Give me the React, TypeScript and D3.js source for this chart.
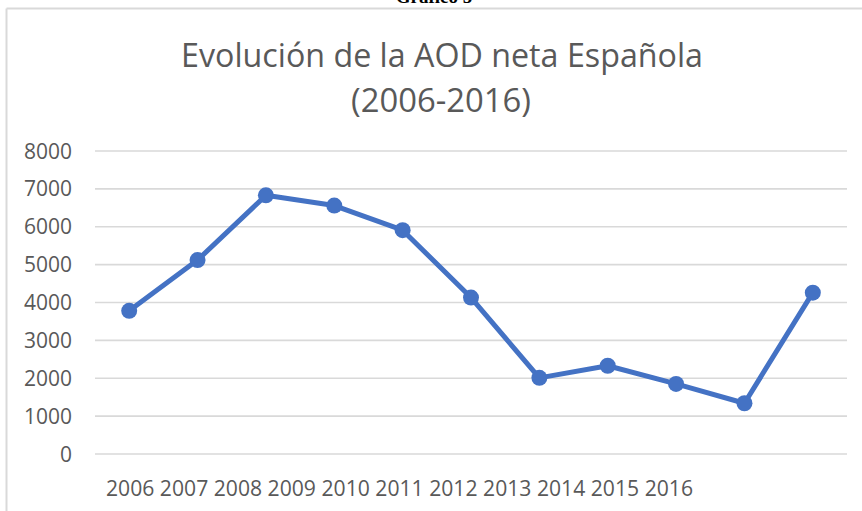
import React from "react";
import * as d3 from "d3";

const categories = ["2006", "2007", "2008", "2009", "2010", "2011", "2012", "2013", "2014", "2015", "2016"];
const values = [3780, 5120, 6830, 6560, 5910, 4130, 2010, 2330, 1850, 1340, 4260];
const yTicks = [0, 1000, 2000, 3000, 4000, 5000, 6000, 7000, 8000];
const axisLabels = ["2006", "2007", "2008", "2009", "2010", "2011", "2012", "2013", "2014", "2015", "2016"];
const titleLines = ["Evolución de la AOD neta Española", "(2006-2016)"];
const caption = "Gráfico 5";

const W = 862;
const H = 511;
const plot = { left: 95, right: 847, top: 151, bottom: 454 };
const FONT = "'Open Sans', 'Noto Sans', sans-serif";
const GREY = "#595959";
const BLUE = "#4472C4";

export default function App() {
  const x = d3.scaleBand<string>().domain(categories).range([plot.left, plot.right]);
  const y = d3.scaleLinear().domain([0, 8000]).range([plot.bottom, plot.top]);
  const line = d3
    .line<number>()
    .x((_, i) => (x(categories[i]) as number) + x.bandwidth() / 2)
    .y((d) => y(d));

  return (
    <svg width={W} height={H} style={{ position: "absolute", left: 0, top: 0, background: "#fff" }}>
      <rect x={0} y={0} width={W} height={H} fill="#fff" />
      <text x={434} y={3} textAnchor="middle" fontFamily="'Liberation Serif', serif" fontWeight="bold" fontSize={19} fill="#000">
        {caption}
      </text>
      <line x1={6.5} x2={W} y1={8.5} y2={8.5} stroke="#d9d9d9" strokeWidth={2} />
      <line x1={6.5} x2={6.5} y1={8.5} y2={H} stroke="#d9d9d9" strokeWidth={2} />
      <text x={442} y={67} textAnchor="middle" fontFamily={FONT} fontWeight={400} fontSize={33} fill={GREY} textLength={522} lengthAdjust="spacingAndGlyphs">
        {titleLines[0]}
      </text>
      <text x={441} y={112} textAnchor="middle" fontFamily={FONT} fontWeight={400} fontSize={33} fill={GREY} textLength={180} lengthAdjust="spacingAndGlyphs">
        {titleLines[1]}
      </text>
      {yTicks.map((t) => (
        <g key={t}>
          <line x1={plot.left} x2={plot.right} y1={y(t)} y2={y(t)} stroke="#d9d9d9" strokeWidth={1.6} />
          <text x={72} y={y(t) + 7.5} textAnchor="end" fontFamily={FONT} fontSize={21} fill={GREY}>
            {t}
          </text>
        </g>
      ))}
      <text x={106} y={496} fontFamily={FONT} fontSize={21} fill={GREY} textLength={587} lengthAdjust="spacingAndGlyphs">
        {axisLabels.join(" ")}
      </text>
      <path d={line(values) || ""} fill="none" stroke={BLUE} strokeWidth={5} strokeLinejoin="round" />
      {values.map((v, i) => (
        <circle key={i} cx={(x(categories[i]) as number) + x.bandwidth() / 2} cy={y(v)} r={8} fill={BLUE} />
      ))}
    </svg>
  );
}
